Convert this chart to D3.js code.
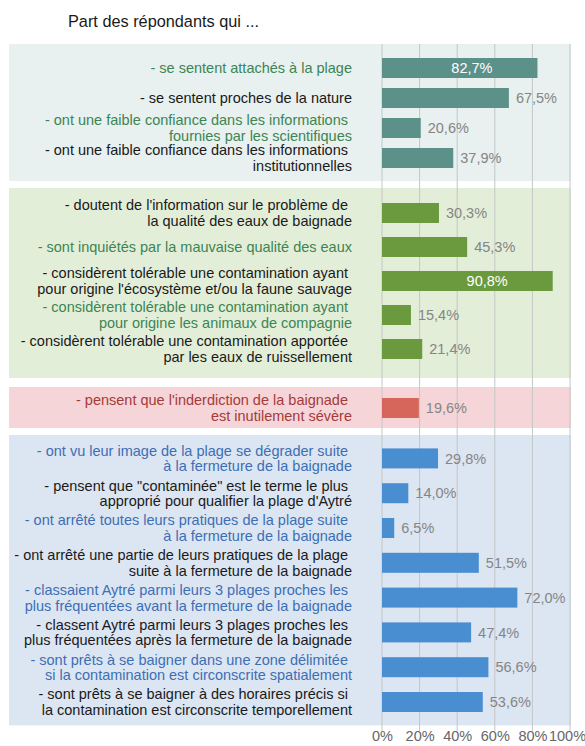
<!DOCTYPE html>
<html>
<head>
<meta charset="utf-8">
<script src="https://cdn.jsdelivr.net/npm/d3@7"></script>
<style>
    body { margin: 0; background: #ffffff; }
    text { font-family: "Liberation Sans", Arial, sans-serif; }
</style>
</head>
<body>
<div id="chart"></div>
<script>
// Labels of each row (lines split with "\n")
var labels = [
    "- se sentent attachés à la plage",
    "- se sentent proches de la nature",
    "- ont une faible confiance dans les informations\nfournies par les scientifiques",
    "- ont une faible confiance dans les informations\ninstitutionnelles",
    "- doutent de l'information sur le problème de\nla qualité des eaux de baignade",
    "- sont inquiétés par la mauvaise qualité des eaux",
    "- considèrent tolérable une contamination ayant\npour origine l'écosystème et/ou la faune sauvage",
    "- considèrent tolérable une contamination ayant\npour origine les animaux de compagnie",
    "- considèrent tolérable une contamination apportée\npar les eaux de ruissellement",
    "- pensent que l'inderdiction de la baignade\nest inutilement sévère",
    "- ont vu leur image de la plage se dégrader suite\nà la fermeture de la baignade",
    "- pensent que \"contaminée\" est le terme le plus\napproprié pour qualifier la plage d'Aytré",
    "- ont arrêté toutes leurs pratiques de la plage suite\nà la fermeture de la baignade",
    "- ont arrêté une partie de leurs pratiques de la plage\nsuite à la fermeture de la baignade",
    "- classaient Aytré parmi leurs 3 plages proches les\nplus fréquentées avant la fermeture de la baignade",
    "- classent Aytré parmi leurs 3 plages proches les\nplus fréquentées après la fermeture de la baignade",
    "- sont prêts à se baigner dans une zone délimitée\nsi la contamination est circonscrite spatialement",
    "- sont prêts à se baigner à des horaires précis si\nla contamination est circonscrite temporellement"
];

// Percent of respondents
var values = [82.7, 67.5, 20.6, 37.9, 30.3, 45.3, 90.8, 15.4, 21.4, 19.6,
              29.8, 14.0, 6.5, 51.5, 72.0, 47.4, 56.6, 53.6];

// Theme group of each row
var groupOf = [0, 0, 0, 0, 1, 1, 1, 1, 1, 2, 3, 3, 3, 3, 3, 3, 3, 3];

// Rows whose label is written in the group colour
var accent = [1, 0, 1, 0, 0, 1, 0, 1, 0, 1, 1, 0, 1, 0, 1, 0, 1, 0];

var xTicks = [0, 20, 40, 60, 80, 100];

function init() {
    var w = 585;
    var h = 746;

    // Panel look and row spacing for each group
    var groupStyle = [
        { top: 44, padTop: 9, step: 30, padBottom: 8, panel: "#e8f0f0", bar: "#5c9189", text: "#3d8552" },
        { top: 188, padTop: 8, step: 34, padBottom: 12, panel: "#e3eed9", bar: "#6b9a3e", text: "#3d8552" },
        { top: 387, padTop: 4, step: 34, padBottom: 3, panel: "#f5d5d8", bar: "#d6665c", text: "#a63a3a" },
        { top: 435, padTop: 6, step: 34.8, padBottom: 6, panel: "#dce5f2", bar: "#4a8ed2", text: "#3d6fb4" }
    ];

    var rows = values.map(function(v, i) {
        return { label: labels[i], value: v, group: groupOf[i], accent: accent[i] };
    });

    // One band scale per group, rows indexed inside their group
    groupStyle.forEach(function(g, gi) {
        var idx = rows.filter(function(r) { return r.group === gi; });
        idx.forEach(function(r, k) { r.k = k; });
        g.n = idx.length;
        g.y = d3.scaleBand()
            .domain(d3.range(g.n))
            .range([g.top + g.padTop, g.top + g.padTop + g.n * g.step]);
        g.bottom = g.top + g.padTop + g.n * g.step + g.padBottom;
    });

    function yCenter(r) {
        var g = groupStyle[r.group];
        return g.y(r.k) + g.y.bandwidth() / 2;
    }

    var xScale = d3.scaleLinear()
        .domain([0, 100])
        .range([382, 570]);

    var barH = 20;
    var labelRight = 352;
    var lineH = 15.5;

    var svg = d3.select("#chart")
        .append("svg")
        .attr("width", w)
        .attr("height", h);

    // Title
    svg.append("text")
        .attr("x", 68)
        .attr("y", 27)
        .style("font-size", "16.3px")
        .style("fill", "#1a1a1a")
        .text("Part des répondants qui ...");

    // Background panels
    svg.selectAll(".panel")
        .data(groupStyle)
        .enter()
        .append("rect")
        .attr("class", "panel")
        .attr("x", 9)
        .attr("y", function(d) { return d.top; })
        .attr("width", 562)
        .attr("height", function(d) { return d.bottom - d.top; })
        .style("fill", function(d) { return d.panel; });

    // Vertical gridlines
    svg.selectAll(".grid")
        .data(xTicks)
        .enter()
        .append("line")
        .attr("class", "grid")
        .attr("x1", function(d) { return xScale(d); })
        .attr("x2", function(d) { return xScale(d); })
        .attr("y1", 44)
        .attr("y2", 731)
        .style("stroke", "#c4c6c6")
        .style("stroke-width", 1);

    // Bars
    svg.selectAll(".bar")
        .data(rows)
        .enter()
        .append("rect")
        .attr("class", "bar")
        .attr("x", xScale(0))
        .attr("y", function(d) { return yCenter(d) - barH / 2; })
        .attr("width", function(d) { return xScale(d.value) - xScale(0); })
        .attr("height", barH)
        .style("fill", function(d) { return groupStyle[d.group].bar; });

    // Value labels, inside the bar when it is long
    svg.selectAll(".value")
        .data(rows)
        .enter()
        .append("text")
        .attr("class", "value")
        .attr("x", function(d) {
            return d.value > 80 ? xScale(d.value) - 45 : xScale(d.value) + 7;
        })
        .attr("y", yCenter)
        .attr("dy", "0.36em")
        .style("text-anchor", function(d) { return d.value > 80 ? "end" : "start"; })
        .style("font-size", "14.5px")
        .style("fill", function(d) { return d.value > 80 ? "#ffffff" : "#858585"; })
        .text(function(d) { return d3.format(".1f")(d.value).replace(".", ",") + "%"; });

    // Row labels, right aligned, one tspan per line
    var lab = svg.selectAll(".label")
        .data(rows)
        .enter()
        .append("text")
        .attr("class", "label")
        .attr("y", yCenter)
        .style("text-anchor", "end")
        .style("font-size", "14.5px")
        .style("fill", function(d) { return d.accent ? groupStyle[d.group].text : "#1a1a1a"; });

    lab.each(function(d) {
        var lines = d.label.split("\n");
        var t = d3.select(this);
        lines.forEach(function(line, i) {
            t.append("tspan")
                .attr("x", labelRight - (i < lines.length - 1 ? 4 : 0))
                .attr("y", yCenter(d) + (i - (lines.length - 1) / 2) * lineH)
                .attr("dy", "0.36em")
                .text(line);
        });
    });

    // X axis labels
    var xAxis = d3.axisBottom(xScale)
        .tickValues(xTicks)
        .tickSize(0)
        .tickPadding(2)
        .tickFormat(function(d) { return d + "%"; });

    var ax = svg.append("g")
        .attr("transform", "translate(0, 729)")
        .call(xAxis);
    ax.select(".domain").remove();
    ax.selectAll("text")
        .style("font-family", "\"Liberation Sans\", Arial, sans-serif")
        .style("font-size", "14.5px")
        .style("fill", "#666666")
        .attr("dx", function(d) { return d === 100 ? -3 : 0; });
}

window.onload = init;
</script>
</body>
</html>
